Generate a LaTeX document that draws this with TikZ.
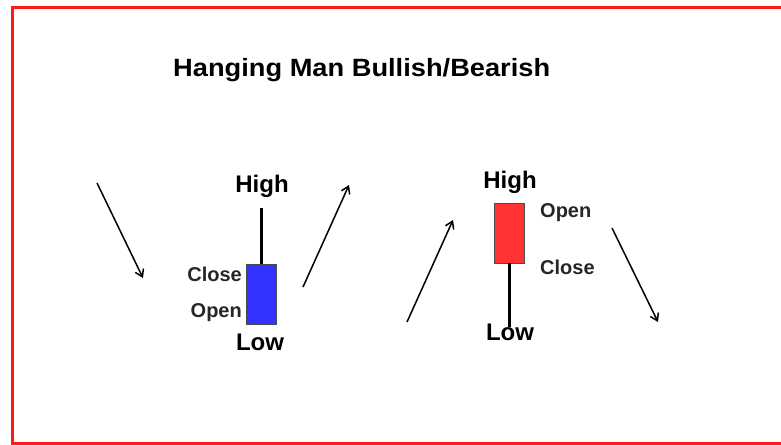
\documentclass[tikz,border=0pt]{standalone}
\usepackage{fontspec}
\setmainfont{Liberation Sans}
\newfontfamily\titlefont[FakeStretch=1.09]{Liberation Sans}
\usetikzlibrary{arrows.meta, positioning}
\definecolor{frame}{HTML}{FF1A1A}
\definecolor{bull}{HTML}{3333FF}
\definecolor{bear}{HTML}{FF3333}

\begin{document}
\begin{tikzpicture}[x=1pt, y=-1pt,
    body/.style={rectangle, draw=black!70, line width=0.8pt, minimum width=30pt, minimum height=60pt, inner sep=0pt},
    wick/.style={line width=3pt, draw=black},
    trend/.style={-{Straight Barb[length=7pt, width=9pt]}, line width=1.5pt, draw=black},
    big/.style={font=\fontsize{24}{28}\selectfont\bfseries, inner sep=0pt},
    small/.style={font=\fontsize{20}{24}\selectfont\bfseries, inner sep=0pt, text=black!85}
]
\useasboundingbox (0,0) rectangle (781,444);
\draw[frame, line width=3pt] (12,8) rectangle (820,443);

\node[font=\titlefont\fontsize{25}{30}\selectfont\bfseries, anchor=west, inner sep=0pt] (title) at (173,70) {Hanging Man Bullish/Bearish};

% bullish hanging man
\node[body, fill=bull] (bbody) at (261,294) {};
\coordinate (bhigh) at (261,208);
\draw[wick] (bhigh) -- (bbody.north);
\node[big] (bhightxt) at (262,186) {High};
\node[big] (blowtxt) at (260,342) {Low};
\node[small, anchor=east] (bclose) at (242,274) {Close};
\node[small, anchor=east] (bopen) at (242,313) {Open};

% bearish hanging man
\node[body, fill=bear] (rbody) at (509,233) {};
\coordinate (rlow) at (509,327);
\draw[wick] (rbody.south) -- (rlow);
\node[big] (rhightxt) at (510,182) {High};
\node[big] (rlowtxt) at (510,332) {Low};
\node[small, anchor=west] (ropen) at (540,213) {Open};
\node[small, anchor=west] (rclose) at (540,267) {Close};

% trend arrows
\coordinate (d1a) at (97,183);  \coordinate (d1b) at (143,278);
\coordinate (u1a) at (303,287); \coordinate (u1b) at (349,185);
\coordinate (u2a) at (407,322); \coordinate (u2b) at (453,220);
\coordinate (d2a) at (612,228); \coordinate (d2b) at (658,322);
\draw[trend] (d1a) -- (d1b);
\draw[trend] (u1a) -- (u1b);
\draw[trend] (u2a) -- (u2b);
\draw[trend] (d2a) -- (d2b);
\end{tikzpicture}
\end{document}
